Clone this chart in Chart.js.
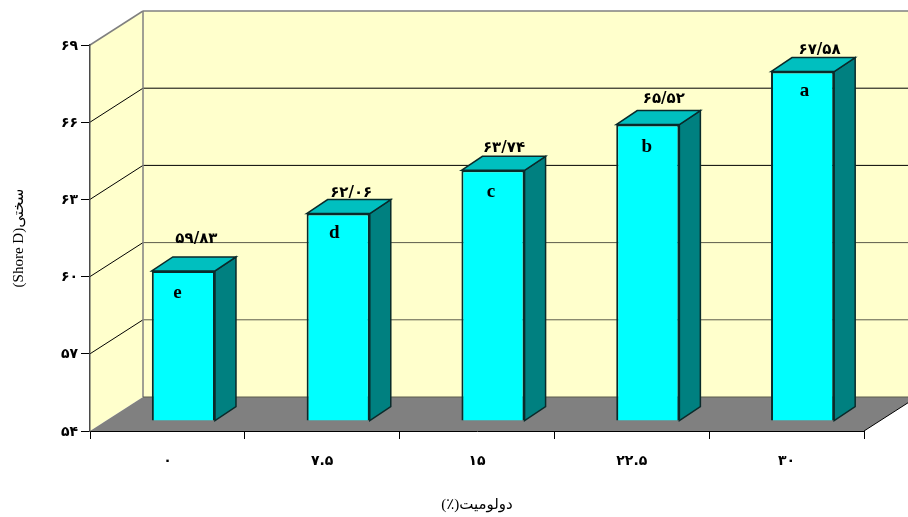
<!DOCTYPE html>
<html><head><meta charset="utf-8">
<style>html,body{margin:0;padding:0;background:#fff}#w{width:908px;height:517px}canvas{display:block}</style>
<script src="https://cdn.jsdelivr.net/npm/chart.js@4"></script></head>
<body><div id="w"><canvas id="c" width="908" height="517"></canvas></div>
<script>
const categories = ['۰','۷.۵','۱۵','۲۲.۵','۳۰'];
const hardness = [59.83,62.06,63.74,65.52,67.58];
const valueLabels = ['۵۹/۸۳','۶۲/۰۶','۶۳/۷۴','۶۵/۵۲','۶۷/۵۸'];
const letters = ['e','d','c','b','a'];
const yTicks = {54:'۵۴',57:'۵۷',60:'۶۰',63:'۶۳',66:'۶۶',69:'۶۹'};
const yTitle = '(Shore D)سختی';
const xTitle = '\u200Fدولومیت(٪)\u200F';

const FLOOR = {dx:53, dy:-34};
const BARPLANE = {dx:16, dy:-10};
const SIDE = {dx:21, dy:-14};
const labelOff = [[13,-32],[13,-20],[11,-22],[16,-25],[17,-21.5]];
const letterOff = [[-6,22],[-4,20],[-2,22],[-1,23],[2,20]];
const DIGITS = 'bold 15px "DejaVu Sans"';

const poly = (ctx,pts,fill,stroke,w=1)=>{
  ctx.beginPath();pts.forEach((p,i)=>i?ctx.lineTo(p[0],p[1]):ctx.moveTo(p[0],p[1]));ctx.closePath();
  if(fill){ctx.fillStyle=fill;ctx.fill();}
  if(stroke){ctx.strokeStyle=stroke;ctx.lineWidth=w;ctx.stroke();}
};
const line=(ctx,x1,y1,x2,y2,c,w=1)=>{ctx.strokeStyle=c;ctx.lineWidth=w;ctx.beginPath();ctx.moveTo(x1,y1);ctx.lineTo(x2,y2);ctx.stroke();};

const box3d = {
  id:'box3d',
  beforeDraw(chart){
    const {ctx,chartArea:a,scales:{y}}=chart, {dx,dy}=FLOOR;
    const t=y.getPixelForValue(y.max), b=y.getPixelForValue(y.min);
    ctx.save();
    poly(ctx,[[a.left+dx,t+dy],[a.right+dx,t+dy],[a.right+dx,b+dy],[a.left+dx,b+dy]],'#FFFFCC');
    poly(ctx,[[a.left,t],[a.left+dx,t+dy],[a.left+dx,b+dy],[a.left,b]],'#FFFFCC');
    y.ticks.forEach(k=>{
      const p=y.getPixelForValue(k.value);
      if(k.value===y.min) return;
      if(k.value===y.max){
        line(ctx,a.left,p,a.left+dx,p+dy,'#808080',1.5);
        line(ctx,a.left+dx,p+dy,a.right+dx,p+dy,'#808080',1.5);
      }else{
        const c=k.value<=60?'#5c5c4c':'#000';
        line(ctx,a.left,p,a.left+dx,p+dy,'#000',1);
        line(ctx,a.left+dx,p+dy,a.right+dx,p+dy,c,1);
      }
    });
    line(ctx,a.left+dx,t+dy,a.left+dx,b+dy,'#808080',1.5);
    poly(ctx,[[a.left,b],[a.left+dx,b+dy],[a.right+dx,b+dy],[a.right,b]],'#808080');
    line(ctx,a.left+dx,b+dy,a.right+dx,b+dy,'#5c5c4c',1);
    line(ctx,a.right,b,a.right+dx,b+dy,'#000',1);
    ctx.restore();
  },
  beforeDatasetDraw(chart){
    const {ctx}=chart;
    ctx.save();
    ctx.translate(BARPLANE.dx,BARPLANE.dy);
    chart.getDatasetMeta(0).data.forEach(bar=>{
      const r=bar.x+bar.width/2,l=bar.x-bar.width/2,top=bar.y,base=bar.base,{dx,dy}=SIDE;
      poly(ctx,[[r,top],[r+dx,top+dy],[r+dx,base+dy],[r,base]],'#008080','#0a2a2a',1.5);
      poly(ctx,[[l,top],[l+dx,top+dy],[r+dx,top+dy],[r,top]],'#00BFBF','#0a2a2a',1.5);
    });
  },
  afterDatasetDraw(chart){chart.ctx.restore();},
  afterDatasetsDraw(chart){
    const {ctx}=chart;
    ctx.save();
    ctx.fillStyle='#000';ctx.textAlign='center';ctx.textBaseline='middle';
    chart.getDatasetMeta(0).data.forEach((bar,i)=>{
      const x=bar.x+BARPLANE.dx,y=bar.y+BARPLANE.dy;
      ctx.font=DIGITS;
      ctx.fillText(valueLabels[i],x+labelOff[i][0],y+labelOff[i][1]);
      ctx.font='bold 19px "Liberation Serif"';
      ctx.fillText(letters[i],x+letterOff[i][0],y+letterOff[i][1]);
    });
    ctx.restore();
  }
};

new Chart(document.getElementById('c'),{
  type:'bar',
  data:{labels:categories,datasets:[{data:hardness,base:54,backgroundColor:'#00FFFF',borderColor:'#0a2a2a',borderWidth:2,
    barPercentage:1,categoryPercentage:0.408,clip:false}]},
  options:{
    responsive:false,animation:false,
    layout:{padding:{top:45,right:44,left:0,bottom:0}},
    plugins:{legend:{display:false},tooltip:{enabled:false}},
    scales:{
      x:{
        offset:true,
        afterFit(s){s.height=86;},
        grid:{display:true,offset:true,drawOnChartArea:false,drawTicks:true,tickLength:8,color:'#000',lineWidth:1},
        border:{display:true,color:'#000',width:1},
        ticks:{font:{family:'"DejaVu Sans"',size:14,weight:'bold'},color:'#000',padding:14,maxRotation:0},
        title:{display:true,text:xTitle,color:'#000',font:{family:'"Liberation Serif","DejaVu Sans"',size:15},padding:{top:0,bottom:3}}
      },
      y:{
        min:54,max:69,
        afterFit(s){s.width=90;},
        grid:{display:true,drawOnChartArea:false,drawTicks:true,tickLength:9,color:'#000',lineWidth:1},
        border:{display:true,color:'#4a4a4a',width:1.5},
        ticks:{stepSize:3,font:{family:'"DejaVu Sans"',size:14,weight:'bold'},color:'#000',padding:3,labelOffset:1,callback:v=>yTicks[v]},
        title:{display:true,text:yTitle,color:'#000',font:{family:'"Liberation Serif","DejaVu Sans"',size:15},padding:{top:10,bottom:0}}
      }
    }
  },
  plugins:[box3d]
});
</script></body></html>
